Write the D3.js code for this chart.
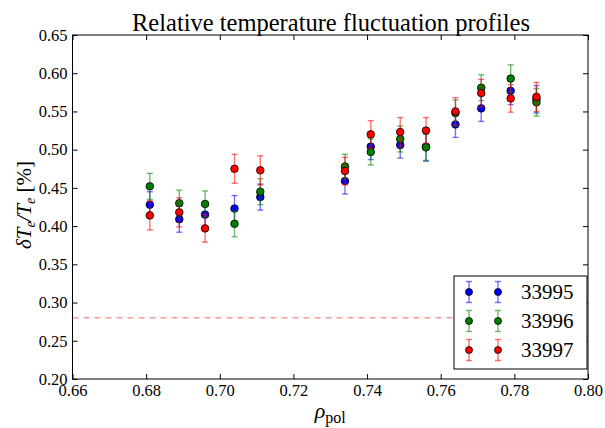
<!DOCTYPE html>
<meta charset="utf-8">
<script src="https://d3js.org/d3.v7.min.js"></script>
<style>
  body { margin: 0; background: #fff; }
</style>
<div id="chart"></div>
<script>
// rho_pol positions of the measurement points
var rho = [0.681, 0.689, 0.696, 0.704, 0.711, 0.734, 0.741, 0.749, 0.756, 0.764, 0.771, 0.779, 0.786];

// relative fluctuation amplitude per shot, and its error
var shots = ["33995", "33996", "33997"];
var val33995 = [0.428, 0.409, 0.415, 0.423, 0.438, 0.459, 0.504, 0.506, 0.504, 0.533, 0.554, 0.577, 0.566];
var err33995 = [0.017, 0.017, 0.017, 0.017, 0.017, 0.017, 0.017, 0.017, 0.019, 0.017, 0.017, 0.018, 0.018];
var val33996 = [0.452, 0.430, 0.429, 0.403, 0.445, 0.478, 0.497, 0.514, 0.503, 0.548, 0.581, 0.593, 0.562];
var err33996 = [0.017, 0.017, 0.017, 0.017, 0.017, 0.016, 0.017, 0.017, 0.017, 0.017, 0.017, 0.018, 0.018];
var val33997 = [0.414, 0.418, 0.397, 0.475, 0.473, 0.472, 0.520, 0.523, 0.525, 0.550, 0.574, 0.567, 0.569];
var err33997 = [0.019, 0.019, 0.018, 0.019, 0.019, 0.018, 0.018, 0.019, 0.017, 0.018, 0.018, 0.018, 0.019];
var colors = ["#0000ff", "#007f00", "#ff0000"];

var xTicks = [0.66, 0.68, 0.70, 0.72, 0.74, 0.76, 0.78, 0.80];
var yTicks = [0.20, 0.25, 0.30, 0.35, 0.40, 0.45, 0.50, 0.55, 0.60, 0.65];
var threshold = 0.28;

var serif = "'Liberation Serif', Tinos, 'Times New Roman', Times, serif";
var width = 605, height = 428;
var margin = {top: 35, right: 17, bottom: 49, left: 72.5};

var svg = d3.select("#chart").append("svg")
    .attr("width", width)
    .attr("height", height)
    .style("font-family", serif);

var x = d3.scaleLinear().domain([0.66, 0.80]).range([margin.left, width - margin.right]);
var y = d3.scaleLinear().domain([0.20, 0.65]).range([height - margin.bottom, margin.top]);

// axes, ticks pointing inwards on all four sides
var fmt = d3.format(".2f");
svg.append("g")
    .attr("transform", "translate(0," + y.range()[0] + ")")
    .call(d3.axisBottom(x).tickValues(xTicks).tickFormat(fmt).tickSizeInner(-5).tickSizeOuter(0).tickPadding(5));
svg.append("g")
    .attr("transform", "translate(0," + y.range()[1] + ")")
    .call(d3.axisTop(x).tickValues(xTicks).tickFormat("").tickSizeInner(-5).tickSizeOuter(0));
svg.append("g")
    .attr("transform", "translate(" + x.range()[0] + ",0)")
    .call(d3.axisLeft(y).tickValues(yTicks).tickFormat(fmt).tickSizeInner(-5).tickSizeOuter(0).tickPadding(5));
svg.append("g")
    .attr("transform", "translate(" + x.range()[1] + ",0)")
    .call(d3.axisRight(y).tickValues(yTicks).tickFormat("").tickSizeInner(-5).tickSizeOuter(0));

svg.selectAll("g").attr("font-family", null).attr("font-size", null);
svg.selectAll(".domain").remove();
svg.selectAll(".tick line").attr("stroke", "#000");
svg.selectAll(".tick text")
    .style("font-family", serif)
    .style("font-size", "16.5px")
    .attr("fill", "#000");

// dashed reference line
svg.append("line")
    .attr("x1", x.range()[0]).attr("x2", x.range()[1])
    .attr("y1", y(threshold)).attr("y2", y(threshold))
    .attr("stroke", "#ff0000")
    .attr("stroke-opacity", 0.6)
    .attr("stroke-dasharray", "6,5");

// series
var series = [
  {name: shots[0], val: val33995, err: err33995, color: colors[0]},
  {name: shots[1], val: val33996, err: err33996, color: colors[1]},
  {name: shots[2], val: val33997, err: err33997, color: colors[2]}
];
var capW = 3;

function errorbar(g, cx, cy0, cy1, color) {
  g.append("line").attr("x1", cx).attr("x2", cx).attr("y1", cy0).attr("y2", cy1)
    .attr("stroke", color).attr("stroke-width", 1.4).attr("stroke-opacity", 0.55);
  [cy0, cy1].forEach(function(c) {
    g.append("line").attr("x1", cx - capW).attr("x2", cx + capW).attr("y1", c).attr("y2", c)
      .attr("stroke", color).attr("stroke-width", 1.4).attr("stroke-opacity", 0.55);
  });
}

series.forEach(function(s) {
  var g = svg.append("g");
  rho.forEach(function(r, i) {
    errorbar(g, x(r), y(s.val[i] - s.err[i]), y(s.val[i] + s.err[i]), s.color);
  });
  g.selectAll("circle").data(rho).enter().append("circle")
    .attr("cx", function(d) { return x(d); })
    .attr("cy", function(d, i) { return y(s.val[i]); })
    .attr("r", 3.8)
    .attr("fill", s.color)
    .attr("stroke", "#000")
    .attr("stroke-width", 0.8);
});

// frame
svg.append("rect")
    .attr("x", x.range()[0]).attr("y", y.range()[1])
    .attr("width", x.range()[1] - x.range()[0])
    .attr("height", y.range()[0] - y.range()[1])
    .attr("fill", "none").attr("stroke", "#000").attr("stroke-width", 1);

// legend
var lg = svg.append("g").attr("transform", "translate(454,276)");
lg.append("rect").attr("width", 133).attr("height", 93)
  .attr("fill", "#fff").attr("stroke", "#000").attr("stroke-width", 1);
series.forEach(function(s, i) {
  var cy = 16 + i * 29;
  [15, 44].forEach(function(cx) {
    errorbar(lg, cx, cy - 10.5, cy + 10.5, s.color);
    lg.append("circle").attr("cx", cx).attr("cy", cy).attr("r", 3.5)
      .attr("fill", s.color).attr("stroke", "#000").attr("stroke-width", 0.8);
  });
  lg.append("text").attr("x", 67).attr("y", cy + 7)
    .style("font-size", "21px").text(s.name);
});

// title and axis labels
svg.append("text")
    .attr("x", 331).attr("y", 30.5)
    .attr("text-anchor", "middle")
    .style("font-size", "24.5px")
    .text("Relative temperature fluctuation profiles");

var xl = svg.append("text")
    .attr("x", (x.range()[0] + x.range()[1]) / 2).attr("y", 418)
    .attr("text-anchor", "middle")
    .style("font-size", "22px");
xl.append("tspan").style("font-style", "italic").text("ρ");
xl.append("tspan").attr("dy", 5).style("font-size", "16px").text("pol");

var yl = svg.append("text")
    .attr("transform", "translate(31," + ((y.range()[0] + y.range()[1]) / 2 - 2) + ") rotate(-90)")
    .attr("text-anchor", "middle")
    .style("font-size", "21px");
yl.append("tspan").style("font-style", "italic").text("δT");
yl.append("tspan").attr("dy", 4).style("font-style", "italic").style("font-size", "14px").text("e");
yl.append("tspan").attr("dy", -4).style("font-style", "italic").text("/T");
yl.append("tspan").attr("dy", 4).style("font-style", "italic").style("font-size", "14px").text("e");
yl.append("tspan").attr("dy", -4).text("  [%]");
</script>
